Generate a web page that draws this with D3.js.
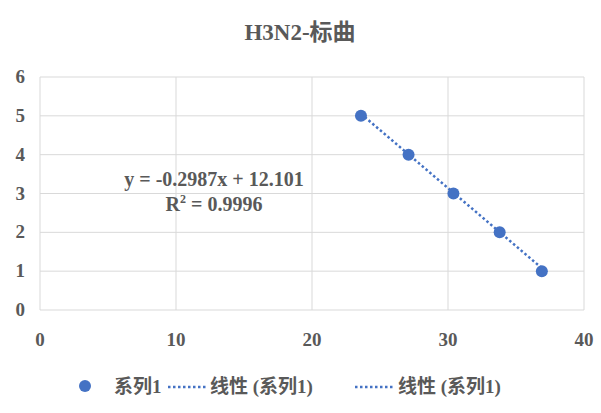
<!DOCTYPE html>
<html><head><meta charset="utf-8">
<script src="https://cdn.jsdelivr.net/npm/d3@7"></script>
<style>body{margin:0;background:#fff}text{font-family:"Liberation Serif","Noto Sans CJK SC",serif;font-weight:bold;fill:#595959}</style>
</head><body><div id="wrap"></div>
<script>
var WIDTH = 601, HEIGHT = 413;
var xs = [23.6, 27.1, 30.4, 33.8, 36.9];
var ys = [5, 4, 3, 2, 1];
var xTicks = [0, 10, 20, 30, 40];
var yTicks = [0, 1, 2, 3, 4, 5, 6];
var slope = -0.2987, intercept = 12.101;

var svg = d3.select("#wrap").append("svg").attr("width", WIDTH).attr("height", HEIGHT);
var x = d3.scaleLinear().domain([0, 40]).range([40, 584]);
var y = d3.scaleLinear().domain([0, 6]).range([310, 77]);

svg.selectAll(".gx").data(xTicks).enter().append("line")
  .attr("x1", x).attr("x2", x).attr("y1", y(0)).attr("y2", y(6)).attr("stroke", "#d9d9d9");
svg.selectAll(".gy").data(yTicks).enter().append("line")
  .attr("x1", x(0)).attr("x2", x(40)).attr("y1", y).attr("y2", y).attr("stroke", "#d9d9d9");

svg.selectAll(".xl").data(xTicks).enter().append("text")
  .attr("x", x).attr("y", 346).attr("text-anchor", "middle").attr("font-size", 19).text(String);
svg.selectAll(".yl").data(yTicks).enter().append("text")
  .attr("x", 25).attr("y", function(d) { return y(d) + 6; }).attr("text-anchor", "end").attr("font-size", 19).text(String);

// trendline
var x0 = d3.min(xs), x1 = d3.max(xs);
svg.append("line")
  .attr("x1", x(x0)).attr("y1", y(slope * x0 + intercept))
  .attr("x2", x(x1)).attr("y2", y(slope * x1 + intercept))
  .attr("stroke", "#4472c4").attr("stroke-width", 2.5).attr("stroke-dasharray", "2.5,2.5");

svg.selectAll(".pt").data(xs).enter().append("circle")
  .attr("cx", x).attr("cy", function(d, i) { return y(ys[i]); })
  .attr("r", 6).attr("fill", "#4472c4");

svg.append("text").attr("x", 300).attr("y", 40).attr("text-anchor", "middle").attr("font-size", 23).text("H3N2-标曲");
svg.append("text").attr("x", 214).attr("y", 186).attr("text-anchor", "middle").attr("font-size", 20).text("y = -0.2987x + 12.101");
var r2 = svg.append("text").attr("x", 214).attr("y", 211).attr("text-anchor", "middle").attr("font-size", 20);
r2.append("tspan").text("R");
r2.append("tspan").attr("font-size", 12).attr("dy", -8).text("2");
r2.append("tspan").attr("dy", 8).text(" = 0.9996");

// legend
svg.append("circle").attr("cx", 85).attr("cy", 386).attr("r", 6).attr("fill", "#4472c4");
svg.append("text").attr("x", 114).attr("y", 393).attr("font-size", 19).text("系列1");
[[168, 210], [355, 398]].forEach(function(p) {
  svg.append("line").attr("x1", p[0]).attr("x2", p[0] + 38).attr("y1", 387).attr("y2", 387)
    .attr("stroke", "#4472c4").attr("stroke-width", 2.5).attr("stroke-dasharray", "2.5,2.5");
  svg.append("text").attr("x", p[1]).attr("y", 393).attr("font-size", 19).text("线性 (系列1)");
});
</script></body></html>
